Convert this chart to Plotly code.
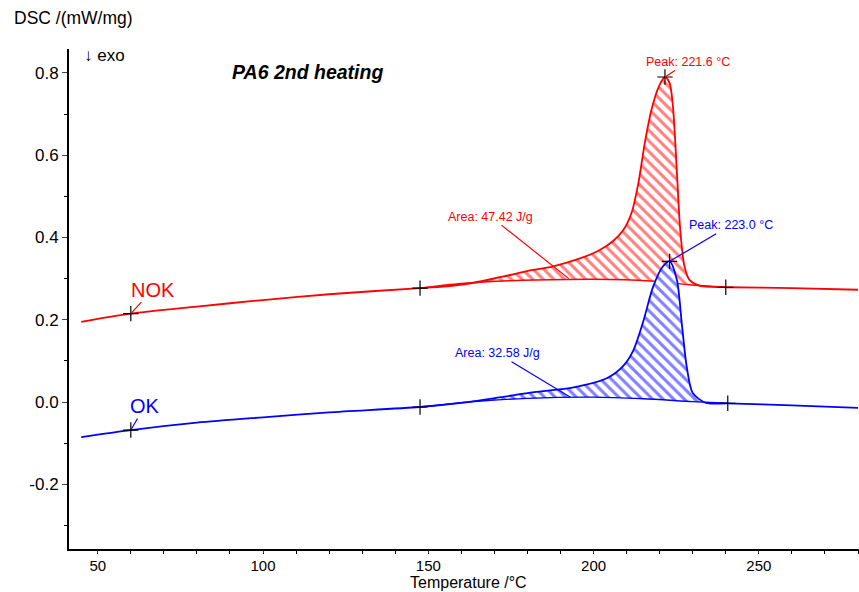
import numpy as np
import plotly.graph_objects as go

# ---- data ----
nok_temp = [45, 60, 80, 100, 120, 147.5, 153.6, 163.7, 172, 181.7, 187.8, 195.9, 202, 206, 209, 211.5, 213.5, 215.5, 217.5, 219.8, 221.6, 223, 224, 225.2, 226.2, 227.5, 229, 232, 236, 240, 260, 280]
nok_dsc = [0.195, 0.215, 0.232, 0.248, 0.262, 0.277, 0.280, 0.290, 0.304, 0.321, 0.330, 0.349, 0.370, 0.392, 0.418, 0.46, 0.53, 0.63, 0.71, 0.768, 0.79, 0.775, 0.72, 0.56, 0.42, 0.33, 0.297, 0.283, 0.280, 0.279, 0.277, 0.273]
nok_base_temp = [147.5, 160, 175, 192, 205, 220, 229, 240]
nok_base_dsc = [0.277, 0.288, 0.295, 0.298, 0.298, 0.293, 0.285, 0.279]

ok_temp = [45, 60, 80, 100, 120, 147.5, 160, 172, 182, 194, 204, 209, 212, 215, 218, 221, 223, 225.2, 226.7, 228.2, 230, 234, 240.6, 260, 280]
ok_dsc = [-0.085, -0.068, -0.050, -0.037, -0.025, -0.012, -0.002, 0.012, 0.024, 0.036, 0.058, 0.088, 0.125, 0.195, 0.28, 0.33, 0.342, 0.297, 0.19, 0.085, 0.022, -0.002, -0.003, -0.008, -0.014]
ok_base_temp = [147.5, 165, 180, 200, 215, 230, 240.6]
ok_base_dsc = [-0.012, 0.002, 0.009, 0.012, 0.008, 0.001, -0.003]

nok_marks_t = [60, 147.5, 221.6, 240]
nok_marks_y = [0.215, 0.277, 0.79, 0.279]
ok_marks_t = [60, 147.5, 223.0, 240.6]
ok_marks_y = [-0.068, -0.012, 0.342, -0.003]

x_ticks = [50, 100, 150, 200, 250]
y_ticks = [-0.2, 0.0, 0.2, 0.4, 0.6, 0.8]
y_tick_text = ["-0.2", "0.0", "0.2", "0.4", "0.6", "0.8"]

RED = "#ff0000"
BLUE = "#0000ff"
FONT = "Arial, Liberation Sans, sans-serif"


def segment(t, y, t0, t1):
    t = np.array(t)
    y = np.array(y)
    m = (t >= t0) & (t <= t1)
    return t[m], y[m]


fig = go.Figure()

# red hatched area
fig.add_trace(go.Scatter(x=nok_base_temp, y=nok_base_dsc, mode="lines",
                         line=dict(color=RED, width=1.4, shape="spline", smoothing=0.8),
                         hoverinfo="skip", showlegend=False))
st, sy = segment(nok_temp, nok_dsc, nok_base_temp[0], nok_base_temp[-1])
fig.add_trace(go.Scatter(x=st, y=sy, mode="lines", line=dict(width=0, shape="spline", smoothing=0.8),
                         fill="tonexty", fillcolor="white",
                         fillpattern=dict(shape="\\", fgcolor=RED, bgcolor="white", size=7.5, solidity=0.4),
                         hoverinfo="skip", showlegend=False))

# blue hatched area
fig.add_trace(go.Scatter(x=ok_base_temp, y=ok_base_dsc, mode="lines",
                         line=dict(color=BLUE, width=1.4, shape="spline", smoothing=0.8),
                         hoverinfo="skip", showlegend=False))
st, sy = segment(ok_temp, ok_dsc, ok_base_temp[0], ok_base_temp[-1])
fig.add_trace(go.Scatter(x=st, y=sy, mode="lines", line=dict(width=0, shape="spline", smoothing=0.8),
                         fill="tonexty", fillcolor="white",
                         fillpattern=dict(shape="\\", fgcolor=BLUE, bgcolor="white", size=7.5, solidity=0.4),
                         hoverinfo="skip", showlegend=False))

# curves
fig.add_trace(go.Scatter(x=nok_temp, y=nok_dsc, mode="lines",
                         line=dict(color=RED, width=1.8, shape="spline", smoothing=0.8),
                         name="NOK", showlegend=False))
fig.add_trace(go.Scatter(x=ok_temp, y=ok_dsc, mode="lines",
                         line=dict(color=BLUE, width=1.8, shape="spline", smoothing=0.8),
                         name="OK", showlegend=False))

# markers
fig.add_trace(go.Scatter(x=nok_marks_t + ok_marks_t, y=nok_marks_y + ok_marks_y, mode="markers",
                         marker=dict(symbol="cross-thin", size=11, line=dict(color="black", width=1.2)),
                         hoverinfo="skip", showlegend=False))

ann = []


def arrow_note(x, y, text, color, ax, ay, size=12.5):
    ann.append(dict(x=x, y=y, xref="x", yref="y", text=text, showarrow=True, arrowhead=0,
                    arrowwidth=1.2, arrowcolor=color, ax=ax, ay=ay,
                    font=dict(family=FONT, size=size, color=color)))


arrow_note(221.6, 0.79, "Peak: 221.6 °C", RED, 23, -15)
arrow_note(192.5, 0.30, "Area: 47.42 J/g", RED, -78, -62)
arrow_note(223.0, 0.342, "Peak: 223.0 °C", BLUE, 61, -36)
arrow_note(193.0, 0.012, "Area: 32.58 J/g", BLUE, -73, -44)
arrow_note(60, 0.215, "NOK", RED, 22, -24, size=20)
arrow_note(60, -0.068, "OK", BLUE, 14, -24, size=20)

ann.append(dict(x=-0.072, y=1.062, xref="paper", yref="paper", xanchor="left", yanchor="middle",
                text="DSC /(mW/mg)", showarrow=False, font=dict(family=FONT, size=17.5, color="black")))
ann.append(dict(x=0.0165, y=0.988, xref="paper", yref="paper", xanchor="left", yanchor="middle",
                text="↓ exo", showarrow=False, font=dict(family=FONT, size=17, color="black")))
ann.append(dict(x=0.204, y=0.954, xref="paper", yref="paper", xanchor="left", yanchor="middle",
                text="<b><i>PA6 2nd heating</i></b>", showarrow=False,
                font=dict(family=FONT, size=19.5, color="black")))
ann.append(dict(x=0.506, y=-0.085, xref="paper", yref="paper", xanchor="center", yanchor="bottom",
                text="Temperature /°C", showarrow=False, borderpad=0,
                font=dict(family=FONT, size=16, color="black")))

fig.update_layout(
    width=859, height=592,
    margin=dict(l=69, r=0, t=49, b=43, autoexpand=False),
    paper_bgcolor="white", plot_bgcolor="white",
    font=dict(family=FONT, size=17, color="black"),
    annotations=ann,
)
fig.update_xaxes(range=[41.3, 280.3], tickvals=x_ticks, ticks="outside", ticklen=2, tickwidth=1.2,
                 showline=True, linewidth=2, linecolor="black", showgrid=False, zeroline=False,
                 minor=dict(dtick=10, tick0=0, ticks="outside", ticklen=3, tickwidth=1, tickcolor="black"),
                 tickfont=dict(size=15), automargin=False)
fig.update_yaxes(range=[-0.357, 0.858], tickvals=y_ticks, ticktext=y_tick_text, ticks="outside", ticklen=5,
                 tickwidth=1.2, showline=True, linewidth=2, linecolor="black", showgrid=False, zeroline=False,
                 minor=dict(dtick=0.1, tick0=0, ticks="outside", ticklen=3, tickwidth=1, tickcolor="black"),
                 tickfont=dict(size=17), automargin=False)

fig.write_html("out.html", config={"displayModeBar": False},
               post_script="document.body.style.margin='0';document.body.style.overflow='hidden';")
